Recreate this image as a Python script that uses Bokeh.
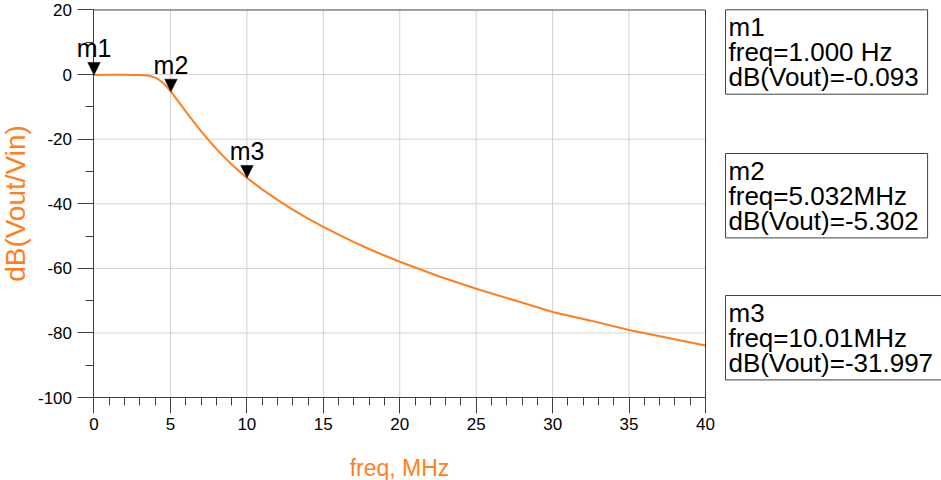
from bokeh.plotting import figure
from bokeh.models import Range1d, FixedTicker, Label, Arrow, NormalHead, PrintfTickFormatter
from bokeh.embed import file_html
from bokeh.resources import INLINE

# Simulated filter response: frequency (MHz) vs. gain (dB)
freq_mhz = [0.0, 1.0, 2.0, 2.5, 3.0, 3.25, 3.5, 3.75, 4.0, 4.25, 4.5, 4.75, 5.032,
            5.5, 6.0, 6.5, 7.0, 7.5, 8.0, 8.5, 9.0, 9.5, 10.01,
            11.0, 12.0, 13.0, 14.0, 15.0, 16.0, 17.0, 18.0, 19.0, 20.0,
            22.5, 25.0, 27.5, 30.0, 32.5, 35.0, 37.5, 40.0]
db_vout = [-0.093, -0.09, -0.09, -0.1, -0.13, -0.19, -0.3, -0.55, -0.95, -1.6, -2.5, -3.7, -5.302,
           -8.21, -11.38, -14.5, -17.49, -20.32, -23.0, -25.49, -27.8, -29.96, -31.997,
           -35.54, -38.8, -41.8, -44.58, -47.17, -49.59, -51.87, -54.01, -56.04, -57.96,
           -62.38, -66.33, -69.9, -73.5, -76.2, -79.1, -81.5, -83.9]

# Axis ticks
x_ticks = [0, 5, 10, 15, 20, 25, 30, 35, 40]
x_minor_ticks = list(range(0, 41))
y_ticks = [-100, -80, -60, -40, -20, 0, 20]
y_minor_ticks = list(range(-100, 21, 10))

# Markers
marker_names = ["m1", "m2", "m3"]
marker_freq_mhz = [1e-6, 5.032, 10.01]
marker_freq_text = ["1.000 Hz", "5.032MHz", "10.01MHz"]
marker_db = [-0.093, -5.302, -31.997]

ORANGE = "#ff7f1e"
AXIS = "#404040"
GRID = "#d2d2d2"
FONT = "Liberation Sans"

X0, X1 = x_ticks[0], x_ticks[-1]
Y0, Y1 = y_ticks[0], y_ticks[-1]

# The frame spans the whole canvas; both axes are pinned to the 0..40 MHz,
# -100..20 dB plotting area so that markers and readout boxes are not clipped.
p = figure(width=941, height=480,
           x_range=Range1d(-6.116, 55.437), y_range=Range1d(-125.70, 22.94),
           output_backend="svg", toolbar_location=None,
           min_border_left=0, min_border_right=0, min_border_top=0, min_border_bottom=0)
p.background_fill_color = "white"
p.border_fill_color = "white"
p.outline_line_color = None
p.xgrid.visible = False
p.ygrid.visible = False

p.xaxis.ticker = FixedTicker(ticks=x_ticks, minor_ticks=x_minor_ticks)
p.yaxis.ticker = FixedTicker(ticks=y_ticks, minor_ticks=y_minor_ticks)
p.xaxis.bounds = (X0, X1)
p.yaxis.bounds = (Y0, Y1)
p.xaxis.fixed_location = Y0
p.yaxis.fixed_location = X0

for ax in (p.xaxis, p.yaxis):
    ax.formatter = PrintfTickFormatter(format="%d")
    ax.axis_line_color = AXIS
    ax.major_tick_line_color = AXIS
    ax.minor_tick_line_color = AXIS
    ax.major_tick_in = 0
    ax.minor_tick_in = 0
    ax.major_tick_out = 16
    ax.minor_tick_out = 8
    ax.major_label_text_font = FONT
    ax.major_label_text_font_size = "17px"
    ax.major_label_text_color = "black"
    ax.axis_label_text_font = FONT
    ax.axis_label_text_font_style = "normal"
    ax.axis_label_text_color = ORANGE

p.xaxis.major_label_standoff = 4
p.yaxis.major_label_standoff = 6
p.xaxis.axis_label = "freq, MHz"
p.xaxis.axis_label_text_font_size = "23px"
p.xaxis.axis_label_standoff = 22
p.yaxis.axis_label = "dB(Vout/Vin)"
p.yaxis.axis_label_text_font_size = "28px"
p.yaxis.axis_label_standoff = 3

# Grid lines inside the plotting area
inner_x = x_ticks[1:-1]
inner_y = y_ticks[1:-1]
p.segment(x0=inner_x, y0=[Y0] * len(inner_x), x1=inner_x, y1=[Y1] * len(inner_x),
          line_color=GRID, line_width=1)
p.segment(x0=[X0] * len(inner_y), y0=inner_y, x1=[X1] * len(inner_y), y1=inner_y,
          line_color=GRID, line_width=1)

p.line(freq_mhz, db_vout, line_color=ORANGE, line_width=2)

# Top and right border of the plotting area
p.segment(x0=[X0, X1], y0=[Y1, Y0], x1=[X1, X1], y1=[Y1, Y1], line_color=AXIS, line_width=1)

# Marker triangles and names
for name, f, db in zip(marker_names, marker_freq_mhz, marker_db):
    p.add_layout(Arrow(end=NormalHead(size=12.5, fill_color="black", line_color="black", line_width=0.5),
                       x_start=f, y_start=db + 6, x_end=f, y_end=db,
                       line_alpha=0))
    p.add_layout(Label(x=f, y=db, y_offset=27, text=name, text_align="center",
                       text_baseline="alphabetic", text_font=FONT,
                       text_font_size="25px", text_color="black"))

# Marker readout boxes to the right of the plot
box_tops = [20.06, -24.44, -68.42]
for name, ftxt, db, top in zip(marker_names, marker_freq_text, marker_db, box_tops):
    txt = f"{name}\nfreq={ftxt}\ndB(Vout)={db:.3f}"
    p.add_layout(Label(x=41.31, y=top, text=txt, text_align="left", text_baseline="top",
                       text_font=FONT, text_font_size="26px", text_color="black",
                       text_line_height=0.84,
                       border_line_color=AXIS, border_line_width=1,
                       background_fill_color="white",
                       padding=dict(left=3, right=9, top=2, bottom=2)))

open("out.html", "w").write(file_html(p, INLINE))
